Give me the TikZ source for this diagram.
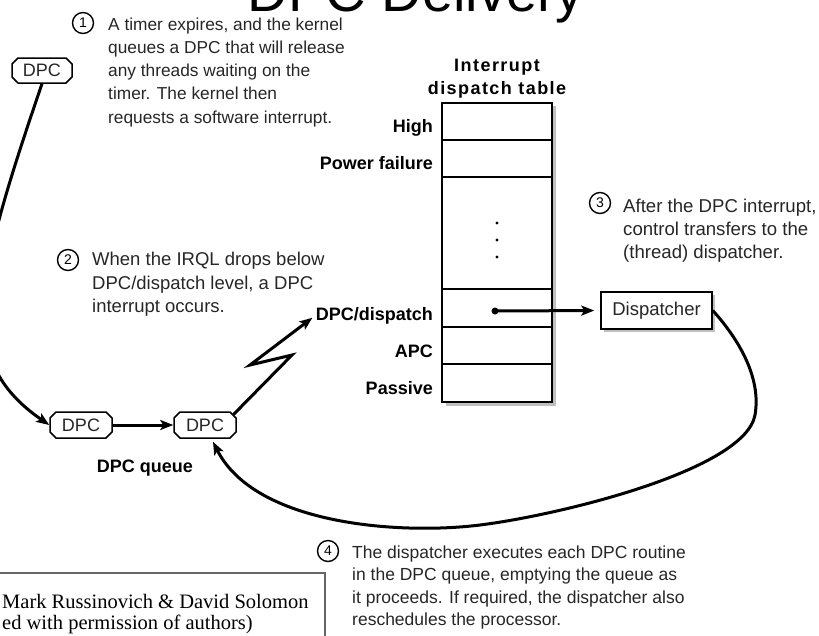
\documentclass[tikz,border=0pt]{standalone}
\usepackage{fontspec}
\setmainfont{Liberation Sans}
\newfontfamily\seriffont{Liberation Serif}
\usetikzlibrary{arrows.meta,shapes.misc}
\begin{document}
\begin{tikzpicture}[x=1pt,y=-1pt,
  conn/.style={line width=3pt,-{Stealth[length=13pt,width=10pt,inset=3pt]}},
  dpcbox/.style={draw,line width=1.5pt,chamfered rectangle,chamfered rectangle sep=3pt,
     inner sep=0pt,minimum width=60pt,minimum height=25pt,font=\fontsize{18}{18}\selectfont,text=black!85},
  cell/.style={draw,line width=1.8pt,minimum width=110pt,inner sep=0pt},
  lbl/.style={font=\bfseries\fontsize{18}{23}\selectfont,inner sep=0pt,anchor=base east},
  num/.style={draw,circle,line width=1.4pt,minimum size=21pt,inner sep=0pt,font=\fontsize{14}{14}\selectfont},
  steptext/.style={align=left,inner sep=0pt,anchor=north west,text=black!85}
]
\useasboundingbox (0,0) rectangle (819,635);
\clip (0,0) rectangle (819,635);

% title
\node[font=\fontsize{56}{56}\selectfont,anchor=base,inner sep=0pt] (title) at (416,11) {DPC Delivery};

% step 1
\node[num] (n1) at (83,23) {1};
\node[steptext,font=\fontsize{17.3}{23.2}\selectfont] (s1) at (108,17.5)
 {A timer expires, and the kernel\\queues a DPC that will release\\any threads waiting on the\\timer. The kernel then\\requests a software interrupt.};

% step 2
\node[num] (n2) at (68,260) {2};
\node[steptext,font=\fontsize{18.5}{23.5}\selectfont] (s2) at (92,252.2)
 {When the IRQL drops below\\DPC/dispatch level, a DPC\\interrupt occurs.};

% step 3
\node[num] (n3) at (600,203) {3};
\node[steptext,font=\fontsize{18.6}{23}\selectfont] (s3) at (623,199.2)
 {After the DPC interrupt,\\control transfers to the\\(thread) dispatcher.};

% step 4
\node[num] (n4) at (328,551) {4};
\node[steptext,font=\fontsize{17.5}{22.3}\selectfont] (s4) at (352,545.6)
 {The dispatcher executes each DPC routine\\in the DPC queue, emptying the queue as\\it proceeds. If required, the dispatcher also\\reschedules the processor.};

% table
\node[font=\bfseries\fontsize{18}{23}\selectfont\addfontfeature{LetterSpace=8},align=center,inner sep=0pt,anchor=north] (ttl) at (497,58.6) {Interrupt\\dispatch table};
\fill[black!25] (446,106) rectangle (556,406);
\node[cell,minimum height=37pt,fill=white] (rHigh) at (497,121.5) {};
\node[cell,minimum height=37pt,fill=white] (rPow) at (497,158.5) {};
\node[cell,minimum height=112pt,fill=white] (rDots) at (497,233) {};
\node[cell,minimum height=38pt,fill=white] (rDpc) at (497,308) {};
\node[cell,minimum height=37pt,fill=white] (rApc) at (497,345.5) {};
\node[cell,minimum height=38pt,fill=white] (rPas) at (497,383) {};
\fill (497,223) circle (1.6);
\fill (497,240) circle (1.6);
\fill (497,257) circle (1.6);

\node[lbl] (lHigh) at (433,132.5) {High};
\node[lbl] (lPow) at (433,169.5) {Power failure};
\node[lbl] (lDpc) at (433,320) {DPC/dispatch};
\node[lbl] (lApc) at (433,357.5) {APC};
\node[lbl] (lPas) at (433,394.5) {Passive};

% dispatcher
\fill[black!25] (604,295) rectangle (715,332);
\node[draw,line width=1.5pt,fill=white,minimum width=111pt,minimum height=37pt,inner sep=0pt,
      font=\fontsize{18.5}{18.5}\selectfont,text=black!85] (disp) at (656.5,310.5) {Dispatcher};
\node[circle,fill,inner sep=0pt,minimum size=7pt] (dot) at (495,311) {};
\draw[conn,shorten >=6pt] (dot.center) -- (disp.west);

% DPC boxes
\node[dpcbox] (dpc1) at (42,70.5) {DPC};
\node[dpcbox,minimum width=62pt,minimum height=26pt] (dpc2) at (81,425) {DPC};
\node[dpcbox,minimum width=62pt,minimum height=26pt] (dpc3) at (205,425) {DPC};
\node[lbl,anchor=base] (q) at (145,472.5) {DPC queue};

% connectors
\draw[conn] (dpc1.south) .. controls (-25,280) and (-45,360) .. (dpc2.west);
\draw[conn] (dpc2.east) -- (dpc3.west);
\draw[conn,shorten >=4pt] (dpc3.north east) -- (292,355) -- (250,365) -- (lDpc.west);
\draw[conn] (disp.east) .. controls (735,335) and (762,375) .. (755,415)
   .. controls (745,470) and (560,515) .. (480,525)
   .. controls (400,535) and (255,525) .. ([xshift=8pt,yshift=-3pt]dpc3.south);

% footnote
\draw[black!60,line width=1.2pt] (-5,573) rectangle (325,645);
\node[anchor=north west,align=left,inner sep=0pt,font=\seriffont\fontsize{20.5}{21}\selectfont] (foot) at (2,594)
 {Mark Russinovich \& David Solomon\\ed with permission of authors)};
\end{tikzpicture}
\end{document}
